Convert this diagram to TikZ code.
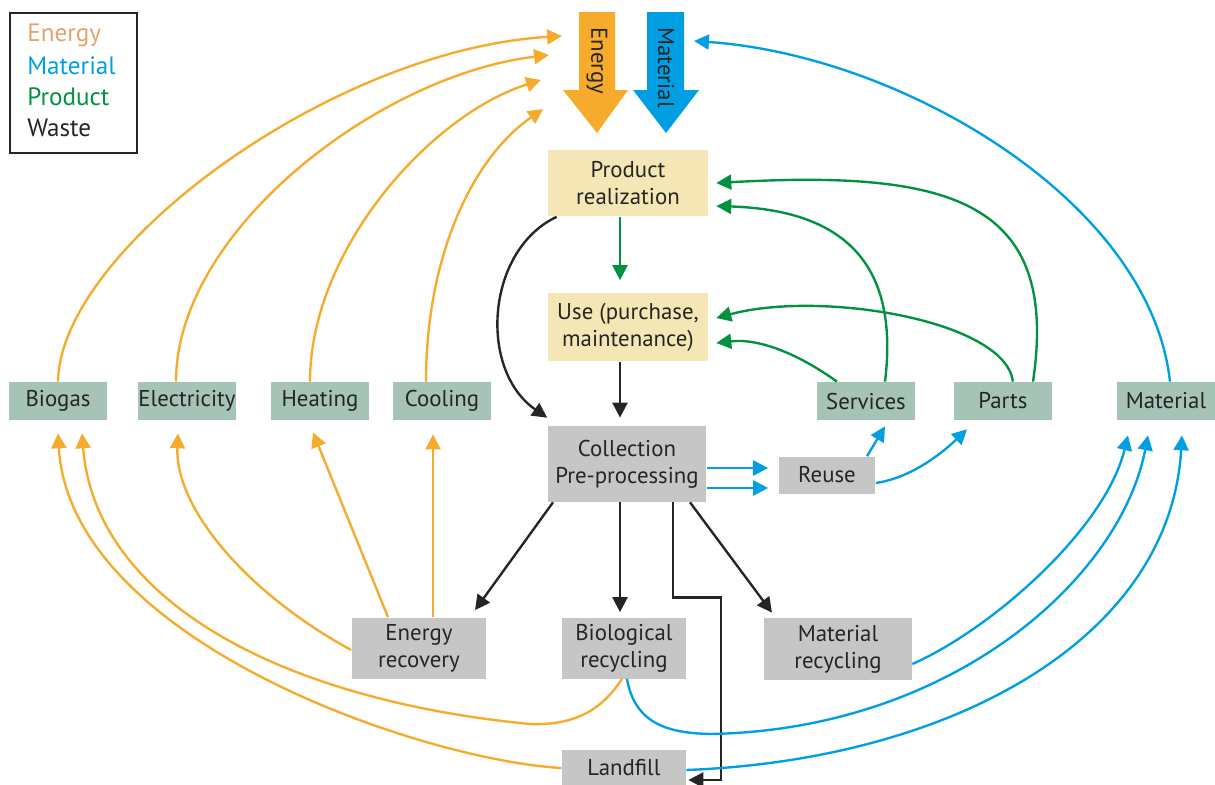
\documentclass[tikz,border=0pt]{standalone}
\usepackage{fontspec}
\setmainfont{PT Sans}
\usetikzlibrary{arrows.meta,calc}
\definecolor{eorange}{HTML}{F7AB2D}
\definecolor{mblue}{HTML}{009FE3}
\definecolor{pgreen}{HTML}{00923F}
\definecolor{legtan}{HTML}{E3A36C}
\definecolor{ink}{HTML}{262524}
\definecolor{stagefill}{HTML}{F5E7B5}
\definecolor{sagefill}{HTML}{A5C3B6}
\definecolor{procfill}{HTML}{C6C6C6}
\tikzset{
  box/.style={inner sep=0pt,align=center,text=ink,font=\fontsize{13}{15.5}\selectfont},
  stagebox/.style={box,fill=stagefill,minimum width=3.2cm},
  outbox/.style={box,fill=sagefill,minimum width=1.95cm,minimum height=0.76cm},
  procbox/.style={box,fill=procfill},
  flow/.style={line width=1.35pt,-{Triangle[length=8.5pt,width=8.5pt]}},
  enflow/.style={flow,draw=eorange},
  matflow/.style={flow,draw=mblue},
  prodflow/.style={flow,draw=pgreen},
  wasteflow/.style={flow,draw=ink}
}

\begin{document}
\begin{tikzpicture}[x=0.02cm,y=-0.02cm]
  \useasboundingbox (0,0) rectangle (1215,785);

  % legend
  \draw[ink,line width=0.8pt] (10,13) rectangle (137,153);
  \foreach \t/\c [count=\i] in {Energy/legtan,Material/mblue,Product/pgreen,Waste/ink}
    \node[anchor=west,inner sep=0pt,text=\c,font=\fontsize{14.3}{17}\selectfont] (leg\i) at (27,{4+31*\i}) {\t};

  % inputs
  \fill[eorange] (579,12) -- (615,12) -- (615,90) -- (628,90) -- (597,133) -- (563,90) -- (579,90) -- cycle;
  \fill[mblue] (647,12) -- (684,12) -- (684,90) -- (699,90) -- (666,133) -- (633,90) -- (647,90) -- cycle;
  \node[box,rotate=-90,anchor=west] (entext) at (597,27) {Energy};
  \node[box,rotate=-90,anchor=west] (mattext) at (666,27) {Material};
  \coordinate (e1) at (562,36);
  \coordinate (e2) at (549,55);
  \coordinate (e3) at (541,80);
  \coordinate (e4) at (543,109);
  \coordinate (m1) at (694,41);

  % main chain
  \node[stagebox,minimum height=1.34cm] (realize) at (628,183) {Product\\realization};
  \node[stagebox,minimum height=1.38cm] (use) at (628,327) {Use (purchase,\\maintenance)};
  \node[procbox,minimum width=3.18cm,minimum height=1.52cm] (collect) at (627,464) {Collection\\Pre-processing};
  \node[procbox,minimum width=1.94cm,minimum height=0.74cm] (reuse) at (827,475) {Reuse};
  \node[procbox,minimum width=2.7cm,minimum height=1.22cm] (erec) at (419,648) {Energy\\recovery};
  \node[procbox,minimum width=2.5cm,minimum height=1.22cm] (biorec) at (624,648) {Biological\\recycling};
  \node[procbox,minimum width=2.96cm,minimum height=1.24cm] (matrec) at (838,649) {Material\\recycling};
  \node[procbox,minimum width=2.48cm,minimum height=0.72cm] (landfill) at (624,768) {Landfill};

  % outputs
  \foreach \n/\x/\t in {biogas/58/Biogas,electricity/187/Electricity,heating/320/Heating,
      cooling/442/Cooling,services/866/Services,parts/1003/Parts,matout/1166/Material}
    \node[outbox] (\n) at (\x,401) {\t};

  % energy back to the input
  \draw[enflow] (biogas.north) .. controls (60,250) and (330,50) .. (e1);
  \draw[enflow] ($(electricity.north)+(-11,0)$) .. controls (176,230) and (380,75) .. (e2);
  \draw[enflow] ($(heating.north)+(-10,0)$) .. controls (310,250) and (430,115) .. (e3);
  \draw[enflow] ($(cooling.north)+(-16,0)$) .. controls (426,260) and (470,160) .. (e4);
  \draw[matflow] ($(matout.north)+(4,0)$) .. controls (1150,200) and (900,55) .. (m1);

  % products
  \draw[prodflow] ($(realize.south)+(-8,0)$) -- ($(use.north)+(-8,-12)$);
  \draw[prodflow] ($(parts.north)+(30,0)$) .. controls (1060,200) and (950,170) .. ($(realize.east)+(8,0)$);
  \draw[prodflow] ($(services.north)+(19,0)$) .. controls (900,260) and (840,210) .. ($(realize.east)+(8,23)$);
  \draw[prodflow] ($(parts.north)+(10,0)$) .. controls (1005,320) and (820,290) .. ($(use.east)+(8,-9)$);
  \draw[prodflow] ($(services.north)+(-29,0)$) .. controls (800,355) and (760,338) .. ($(use.east)+(8,16)$);

  % waste
  \draw[wasteflow] ($(realize.south west)+(9,0)$) .. controls (486,250) and (478,370) .. ($(collect.north west)+(0,-8)$);
  \draw[wasteflow] ($(use.south)+(-8,0)$) -- ($(collect.north)+(-7,-8)$);
  \draw[wasteflow] ($(collect.south)+(-74,0)$) -- ($(erec.north)+(56,-7)$);
  \draw[wasteflow] ($(collect.south)+(-7,0)$) -- ($(biorec.north)+(-4,-5)$);
  \draw[wasteflow] ($(collect.south)+(63,0)$) -- ($(matrec.north)+(-66,-5)$);
  \draw[wasteflow] ($(collect.south)+(46,0)$) -- ++(0,95) -- ++(48,0) |- ($(landfill.east)+(2,12)$);

  % reuse
  \draw[matflow] ($(collect.east)+(0,4)$) -- ($(reuse.west)+(-10,-7)$);
  \draw[matflow] ($(collect.east)+(0,24)$) -- ($(reuse.west)+(-10,13)$);
  \draw[matflow] ($(reuse.north)+(40,0)$) -- ($(services.south)+(19,6)$);
  \draw[matflow] ($(reuse.east)+(0,8)$) .. controls (910,478) and (940,455) .. ($(parts.south)+(-36,9)$);

  % recovery
  \draw[enflow] ($(erec.north)+(-31,0)$) -- ($(heating.south)+(-7,12)$);
  \draw[enflow] ($(erec.north)+(14,0)$) -- ($(cooling.south)+(-9,14)$);
  \draw[enflow] ($(erec.west)+(0,2)$) .. controls (250,595) and (175,510) .. ($(electricity.south)+(-9,13)$);
  \draw[enflow] ($(biorec.south)+(-2,0)$) .. controls (605,705) and (580,726) .. (530,724)
    .. controls (280,700) and (95,600) .. ($(biogas.south)+(24,13)$);
  \draw[enflow] (landfill.west) .. controls (420,760) and (70,640) .. ($(biogas.south)+(0,13)$);
  \draw[matflow] ($(biorec.south)+(3,0)$) .. controls (635,725) and (670,733) .. (710,734)
    .. controls (950,730) and (1120,580) .. ($(matout.south)+(-18,15)$);
  \draw[matflow] ($(matrec.east)+(0,15)$) .. controls (990,630) and (1105,530) .. ($(matout.south)+(-38,15)$);
  \draw[matflow] ($(landfill.east)+(0,2)$) .. controls (950,760) and (1170,640) .. ($(matout.south)+(16,15)$);
\end{tikzpicture}
\end{document}
